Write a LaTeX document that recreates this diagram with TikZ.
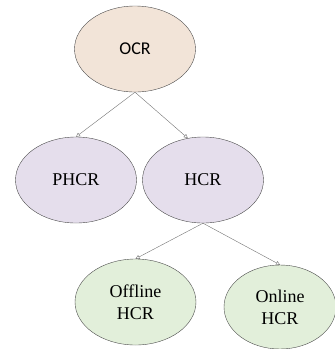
\documentclass[tikz,border=0pt]{standalone}
\usepackage{fontspec}
\setmainfont{Liberation Serif}
\newfontfamily\calibrifont{Carlito}
\usetikzlibrary{arrows.meta,shapes.geometric}

\definecolor{ocrfill}{RGB}{242,228,216}
\definecolor{hcrfill}{RGB}{229,222,236}
\definecolor{leaffill}{RGB}{226,239,218}

\begin{document}
\begin{tikzpicture}[x=1pt, y=-1pt, >={Triangle[open, length=4pt, width=4pt]},
    blob/.style={ellipse, draw=black!70, thin, minimum width=121pt, minimum height=86pt,
                 inner sep=0pt, align=center, font=\fontsize{18}{22}\selectfont},
    link/.style={->, draw=black!55, line width=0.4pt}]
    \useasboundingbox (0,0) rectangle (335,349);

    % Top of the tree
    \node[blob, fill=ocrfill, font=\calibrifont\fontsize{18}{22}\selectfont] (ocr) at (135,49) {OCR};

    % Second level
    \node[blob, fill=hcrfill] (phcr) at (76,180) {PHCR};
    \node[blob, fill=hcrfill] (hcr) at (203,180) {HCR};

    % Leaves under HCR
    \node[blob, fill=leaffill] (offline) at (135.5,302) {Offline\\HCR};
    \node[blob, fill=leaffill, minimum width=112pt, minimum height=84pt] (online) at (280,307) {Online\\HCR};

    % Arrows from OCR
    \draw [link] (ocr.south) -- (phcr.north);
    \draw [link] (ocr.south) -- (hcr.110);

    % Arrows from HCR
    \draw [link] (hcr.south) -- (offline.north);
    \draw [link] (hcr.south) -- (online.north);
\end{tikzpicture}
\end{document}
